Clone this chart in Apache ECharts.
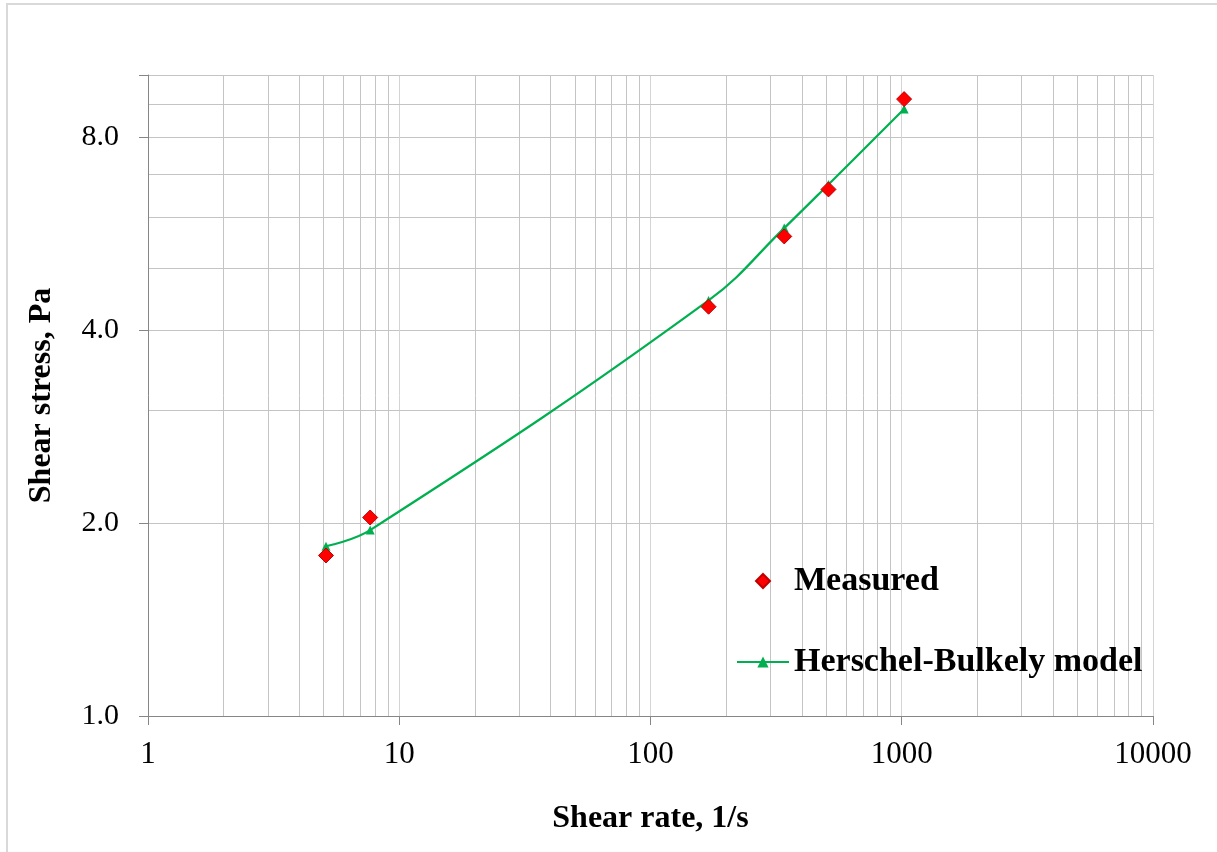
<!DOCTYPE html>
<html>
<head>
<meta charset="utf-8">
<script src="https://cdn.jsdelivr.net/npm/echarts@6/dist/echarts.min.js"></script>
<style>
html,body{margin:0;padding:0;background:#fff;}
#chart{width:1217px;height:852px;}
</style>
</head>
<body>
<div id="chart"></div>
<script>
// Data
const shearRate = [5.11, 7.66, 170.3, 340.6, 510.9, 1021.8];
const measuredStress = [1.78, 2.04, 4.35, 5.6, 6.63, 9.17];
const modelStress = [1.84, 1.95, 4.45, 5.77, 6.75, 8.85];

const xTickLabels = ['1', '10', '100', '1000', '10000'];
const yTickLabels = ['1.0', '2.0', '4.0', '8.0'];
const xDecades = [1, 10, 100, 1000];
const xMinorSteps = [2, 3, 4, 5, 6, 7, 8, 9];
const yMinorGrid = [3, 5, 6, 7, 9, 10];

const FONT = '"Liberation Serif", "Times New Roman", serif';
const DIAMOND = 'path://M0,-1L1,0L0,1L-1,0Z';

const vGrid = [];
xDecades.forEach(d => xMinorSteps.forEach(k => vGrid.push({ xAxis: d * k })));
const hGrid = yMinorGrid.map(v => ({ yAxis: v }));

const chart = echarts.init(document.getElementById('chart'), null, { renderer: 'canvas' });
chart.setOption({
  animation: false,
  backgroundColor: '#ffffff',
  graphic: [{
    type: 'rect', silent: true, z: 0,
    shape: { x: 7, y: 4, width: 1400, height: 1000 },
    style: { fill: 'none', stroke: '#d9d9d9', lineWidth: 2 }
  }],
  grid: { left: 148, right: 64, top: 75, bottom: 136, containLabel: false },
  legend: {
    orient: 'vertical',
    left: 731,
    top: 559,
    padding: 5,
    itemWidth: 52,
    itemHeight: 14,
    itemGap: 47,
    symbolKeepAspect: true,
    data: [{ name: 'Measured', icon: DIAMOND }, { name: 'Herschel-Bulkely model' }],
    textStyle: { fontFamily: FONT, fontSize: 34, fontWeight: 'bold', color: '#000' }
  },
  xAxis: {
    type: 'log',
    logBase: 10,
    min: 1,
    max: 10000,
    name: 'Shear rate, 1/s',
    nameLocation: 'middle',
    nameGap: 87,
    nameTextStyle: { fontFamily: FONT, fontSize: 32, fontWeight: 'bold', color: '#000' },
    axisLine: { show: true, lineStyle: { color: '#868686', width: 1 } },
    axisTick: { show: true, inside: false, length: 9, lineStyle: { color: '#868686' } },
    axisLabel: {
      fontFamily: FONT, fontSize: 31, color: '#000', margin: 23,
      formatter: v => {
        const i = Math.round(Math.log10(v));
        return xTickLabels[i] !== undefined ? xTickLabels[i] : '';
      }
    },
    splitLine: { show: true, lineStyle: { color: '#d4d4d4', width: 1 } },
    minorTick: { show: false },
    minorSplitLine: { show: false }
  },
  yAxis: {
    type: 'log',
    logBase: 2,
    min: 1,
    max: 10,
    name: 'Shear stress, Pa',
    nameLocation: 'middle',
    nameGap: 90,
    nameRotate: 90,
    nameTextStyle: { fontFamily: FONT, fontSize: 32, fontWeight: 'bold', color: '#000' },
    axisLine: { show: true, lineStyle: { color: '#868686', width: 1 } },
    axisTick: { show: true, inside: false, length: 9, lineStyle: { color: '#868686' } },
    axisLabel: {
      fontFamily: FONT, fontSize: 30, color: '#000', margin: 29,
      formatter: v => {
        const l = Math.log2(v);
        const i = Math.round(l);
        return (Math.abs(l - i) < 1e-6 && yTickLabels[i] !== undefined) ? yTickLabels[i] : '';
      }
    },
    splitLine: { show: true, lineStyle: { color: '#c4c4c4', width: 1 } }
  },
  series: [
    {
      name: 'gridlines',
      type: 'line',
      data: [],
      silent: true,
      z: 0,
      markLine: {
        silent: true,
        z: 0,
        symbol: ['none', 'none'],
        label: { show: false },
        emphasis: { disabled: true },
        lineStyle: { color: '#c4c4c4', width: 1, type: 'solid' },
        data: vGrid.concat(hGrid)
      }
    },
    {
      name: 'Herschel-Bulkely model',
      type: 'line',
      z: 3,
      data: shearRate.map((x, i) => [x, modelStress[i]]),
      smooth: 0.4,
      symbol: 'triangle',
      symbolSize: 9,
      showSymbol: true,
      lineStyle: { color: '#00b050', width: 2.2 },
      itemStyle: { color: '#00b050' }
    },
    {
      name: 'Measured',
      type: 'scatter',
      z: 4,
      data: shearRate.map((x, i) => [x, measuredStress[i]]),
      symbol: 'diamond',
      symbolSize: 15,
      itemStyle: { color: '#ff0000', borderColor: '#c00000', borderWidth: 1, opacity: 1 }
    }
  ]
});
</script>
</body>
</html>
